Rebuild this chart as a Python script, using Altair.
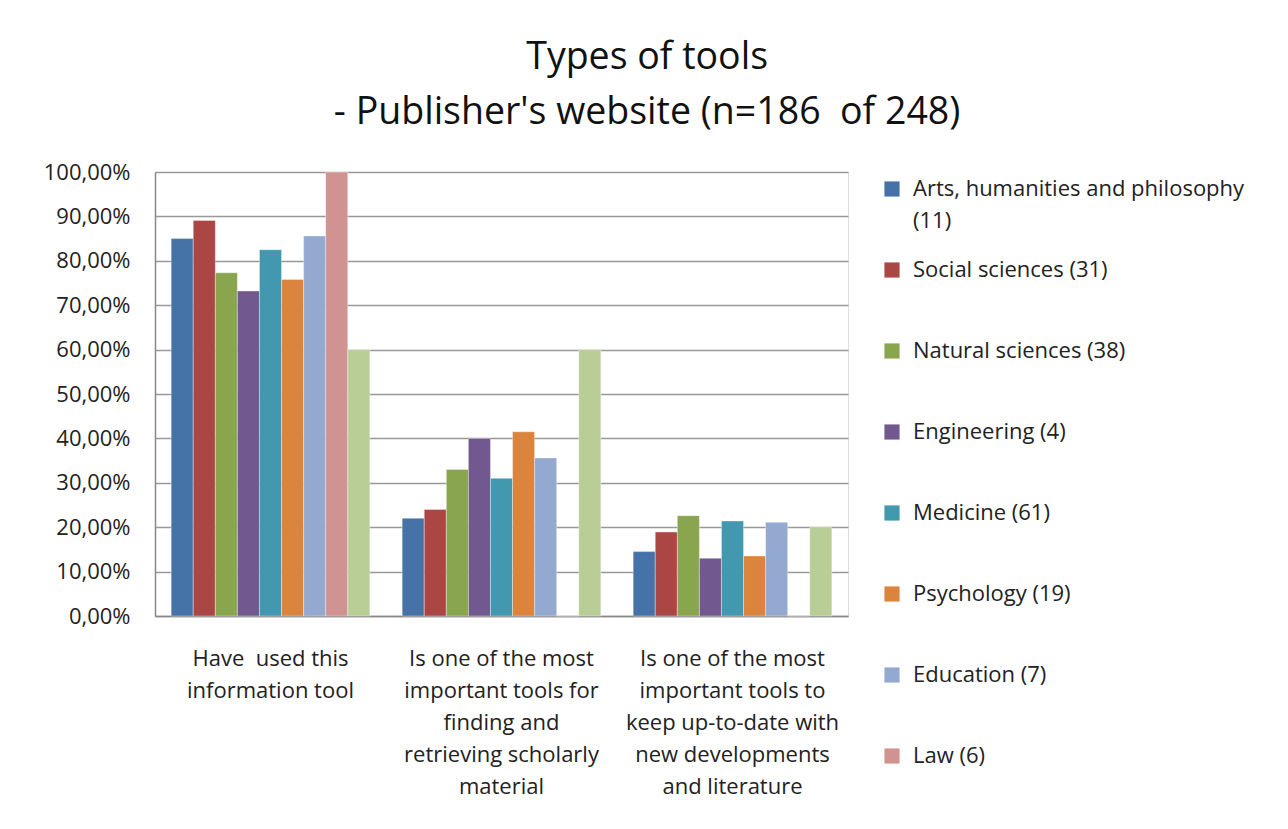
import altair as alt
import pandas as pd

categories = [
    "Have\u00a0 used this\ninformation tool",
    "Is one of the most\nimportant tools for\nfinding and\nretrieving scholarly\nmaterial",
    "Is one of the most\nimportant tools to\nkeep up-to-date with\nnew developments\nand literature",
]
series = [
    "Arts, humanities and philosophy\n(11)",
    "Social sciences (31)",
    "Natural sciences (38)",
    "Engineering (4)",
    "Medicine (61)",
    "Psychology (19)",
    "Education (7)",
    "Law (6)",
    "Other",
]
colors = ["#4572A7", "#AA4643", "#89A54E", "#71588F", "#4198AF",
          "#DB843D", "#93A9CF", "#D19392", "#B9CD96"]

arts = [85.0, 22.0, 14.5]
social = [89.1, 24.0, 18.9]
natural = [77.3, 33.0, 22.6]
engineering = [73.2, 40.0, 13.0]
medicine = [82.5, 31.0, 21.4]
psychology = [75.8, 41.5, 13.5]
education = [85.6, 35.6, 21.1]
law = [100.0, 0.0, 0.0]
other = [60.0, 60.0, 20.0]

values = [arts, social, natural, engineering, medicine, psychology, education, law, other]

rows = []
for s, vals in zip(series, values):
    for c, v in zip(categories, vals):
        rows.append({"category": c, "series": s, "value": v})
df = pd.DataFrame(rows)

font = "Open Sans"

chart = alt.Chart(df).mark_bar(stroke="white", strokeWidth=0.6, strokeOpacity=0.6).encode(
    x=alt.X("category:N", sort=categories,
            scale=alt.Scale(paddingInner=0.14, paddingOuter=0.07),
            axis=alt.Axis(title=None, labelAngle=0, labelExpr="split(datum.label, '\\n')",
                          labelFontSize=22, labelLineHeight=32, labelPadding=32,
                          labelColor="#222", labelFont=font, ticks=False,
                          domainColor="#888", domainWidth=1.5, labelLimit=400,
                          labelBaseline="top")),
    xOffset=alt.XOffset("series:N", sort=series),
    y=alt.Y("value:Q", scale=alt.Scale(domain=[0, 100]),
            axis=alt.Axis(title=None, values=list(range(0, 101, 10)),
                          labelExpr="replace(format(datum.value, '.2f'), '.', ',') + '%'",
                          labelFontSize=22, labelColor="#222", labelFont=font,
                          labelPadding=25, ticks=False,
                          domainColor="#888", domainWidth=1.5,
                          gridColor="#999", gridWidth=1.5)),
    color=alt.Color("series:N", sort=series,
                    scale=alt.Scale(domain=series, range=colors),
                    legend=alt.Legend(title=None, values=series[:8],
                                      labelExpr="indexof(datum.label, '\\n') >= 0 ? split(datum.label, '\\n') : [datum.label, ' ']",
                                      labelFontSize=22, labelFont=font, labelColor="#222",
                                      labelLimit=500, symbolType="square", symbolSize=230,
                                      symbolStrokeWidth=0, rowPadding=27, offset=27,
                                      labelOffset=10, padding=6)),
).properties(
    width=693,
    height=444,
    title=alt.TitleParams(
        text=["Types of tools", "- Publisher's website (n=186\u00a0 of 248)"],
        fontSize=37.5, fontWeight="normal", font=font, color="#111",
        lineHeight=55, anchor="middle", frame="bounds", offset=30,
    ),
).configure_view(stroke=None).configure(
    style={"guide-label": {"lineHeight": 32}},
    padding={"left": 35, "top": 30, "right": 10, "bottom": 10},
)

chart.save("out.html", embed_options={"renderer": "svg", "actions": False})
